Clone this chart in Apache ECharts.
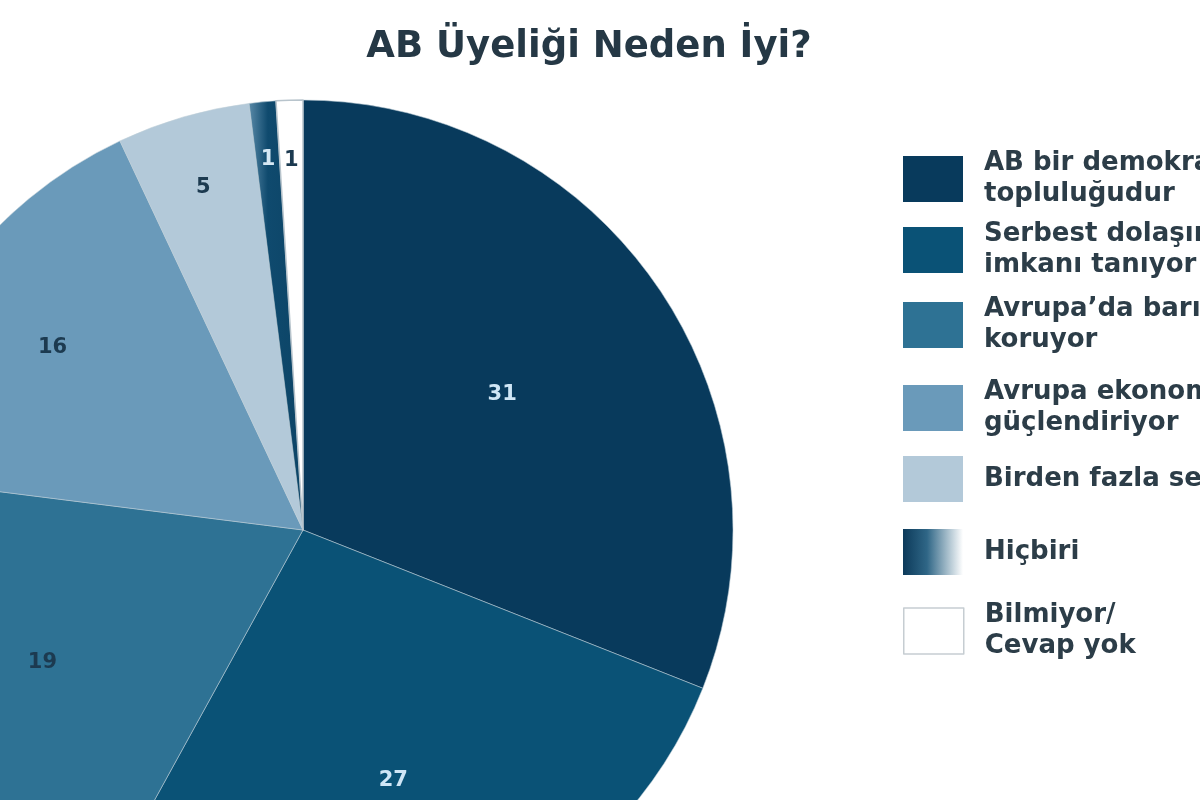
<!DOCTYPE html>
<html>
<head>
    <meta charset="UTF-8">
    <title>AB Üyeliği Neden İyi?</title>
    <script src="https://cdn.jsdelivr.net/npm/echarts@6/dist/echarts.min.js"></script>
    <style>
        html, body { margin: 0; padding: 0; background: #fff; }
        #main { width: 1200px; height: 800px; }
    </style>
</head>
<body>
<div id="main"></div>
<script type="text/javascript">
    // veriler
    var categories = [
        'AB bir demokrasiler\ntopluluğudur',
        'Serbest dolaşım\nimkanı tanıyor',
        'Avrupa’da barışı\nkoruyor',
        'Avrupa ekonomisini\ngüçlendiriyor',
        'Birden fazla seçenek',
        'Hiçbiri',
        'Bilmiyor/\nCevap yok'
    ];
    var values = [31, 27, 19, 16, 5, 1, 1];

    // renkler ve etiket konumu (stil)
    var fillColors = ['#083a5c', '#0a5276', '#2e7294', '#6a9aba', '#b3c9d9', null, '#ffffff'];
    var labelColors = ['#cfe6f6', '#cfe6f6', '#1c3a50', '#1c3a50', '#1c3a50', '#d6e8f4', '#1c3a50'];
    var labelRadius = [0.56, 0.62, 0.68, 0.72, 0.83, 0.865, 0.86];
    var legendTops = [148, 219, 294, 377, 456, 529, 600];

    var CX = 303, CY = 530, R = 430;
    var FONT = '"DejaVu Sans", "Liberation Sans", sans-serif';

    var hicbiriSlice = new echarts.graphic.LinearGradient(0, 0, 1, 0, [
        {offset: 0, color: '#5a8aa8'},
        {offset: 0.35, color: '#0f4a6e'},
        {offset: 1, color: '#0c4466'}
    ]);
    var hicbiriLegend = new echarts.graphic.LinearGradient(0, 0, 1, 0, [
        {offset: 0, color: '#0c3a5a'},
        {offset: 0.4, color: '#2f6686'},
        {offset: 1, color: '#ffffff'}
    ]);

    var total = values.reduce(function (a, b) { return a + b; }, 0);
    var midAngles = [];
    var cum = 0;
    values.forEach(function (v) {
        midAngles.push((cum + v / 2) / total * Math.PI * 2);
        cum += v;
    });

    var pieData = categories.map(function (name, i) {
        var item = {
            name: name,
            value: values[i],
            itemStyle: {color: i === 5 ? hicbiriSlice : fillColors[i]},
            label: {color: labelColors[i]}
        };
        if (i === 6) {
            item.itemStyle.borderColor = '#b8c4cc';
            item.itemStyle.borderWidth = 1.5;
        }
        return item;
    });

    var legends = categories.map(function (name, i) {
        var d = {name: name, icon: 'rect'};
        if (i === 5) d.itemStyle = {color: hicbiriLegend, borderWidth: 0};
        else if (i === 6) d.itemStyle = {color: '#ffffff', borderColor: '#c6cdd2', borderWidth: 1.5};
        else d.itemStyle = {borderWidth: 0};
        return {
            data: [d],
            left: 903,
            top: legendTops[i],
            orient: 'vertical',
            itemWidth: 60,
            itemHeight: 46,
            itemGap: 0,
            padding: 0,
            selectedMode: false,
            textStyle: {
                fontFamily: FONT,
                fontWeight: 'bold',
                fontSize: 26,
                lineHeight: 31,
                color: '#2c3d48',
                padding: [0, 0, 0, 16]
            }
        };
    });

    var chart = echarts.init(document.getElementById('main'));
    var option = {
        backgroundColor: '#ffffff',
        animation: false,
        title: {
            text: 'AB Üyeliği Neden İyi?',
            left: 584,
            top: 24,
            textAlign: 'center',
            textStyle: {
                fontFamily: FONT,
                fontWeight: 'bold',
                fontSize: 37,
                color: '#253845'
            }
        },
        legend: legends,
        series: [
            {
                type: 'pie',
                center: [CX, CY],
                radius: R,
                startAngle: 90,
                clockwise: true,
                avoidLabelOverlap: false,
                itemStyle: {
                    borderColor: 'rgba(190,205,215,0.55)',
                    borderWidth: 1
                },
                label: {
                    show: true,
                    position: 'inside',
                    formatter: '{c}',
                    fontFamily: FONT,
                    fontWeight: 'bold',
                    fontSize: 21
                },
                labelLine: {show: false},
                emphasis: {disabled: true},
                labelLayout: function (p) {
                    var i = p.dataIndex;
                    var r = R * labelRadius[i];
                    return {
                        x: CX + r * Math.sin(midAngles[i]),
                        y: CY - r * Math.cos(midAngles[i]),
                        align: 'center',
                        verticalAlign: 'middle'
                    };
                },
                data: pieData
            }
        ]
    };
    chart.setOption(option);
</script>
</body>
</html>
